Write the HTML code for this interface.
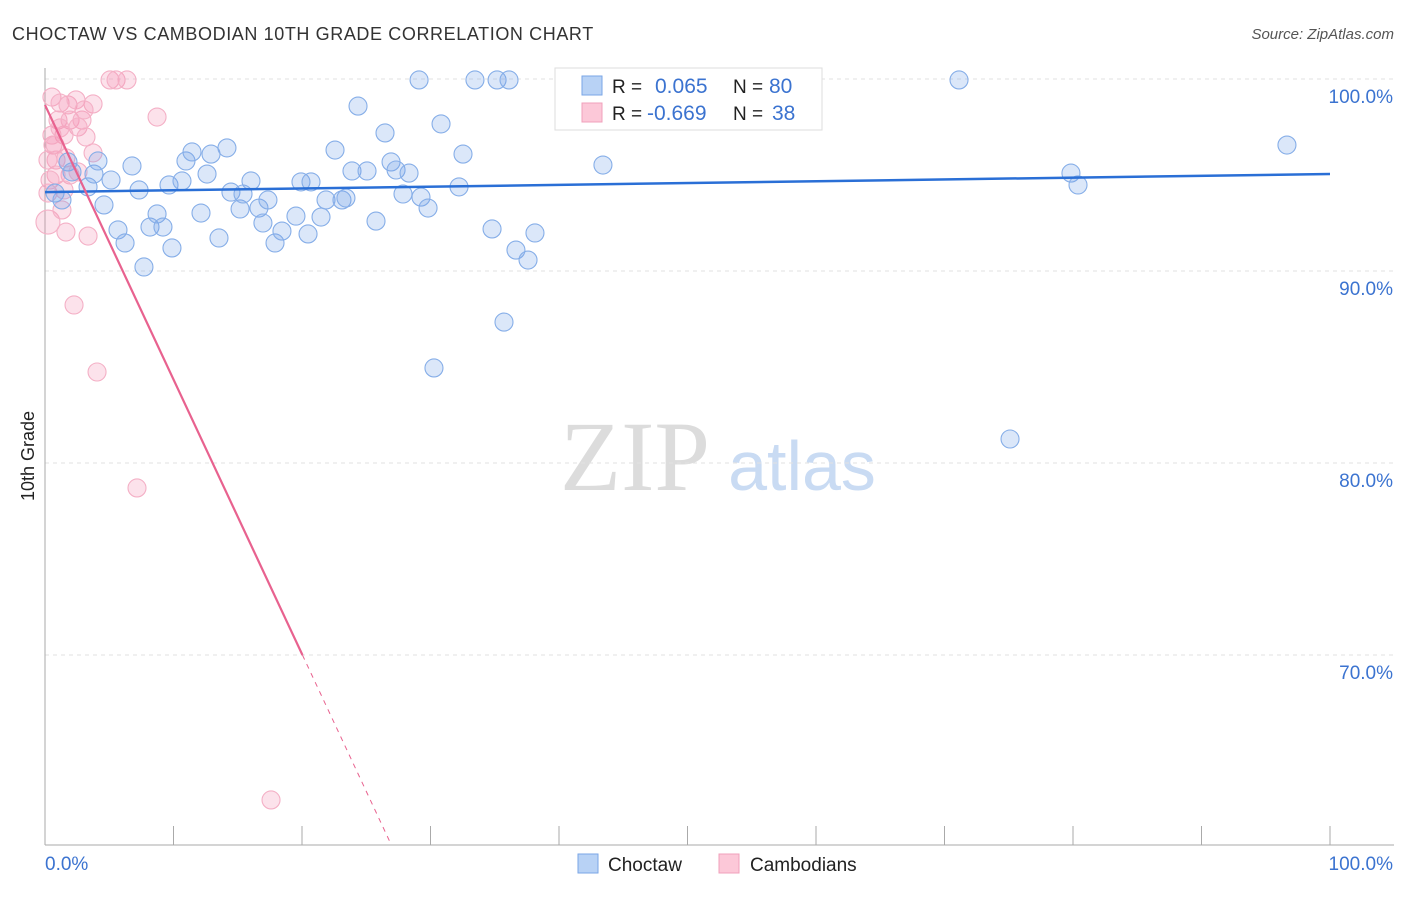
<!DOCTYPE html>
<html><head><meta charset="utf-8"><style>
body{margin:0;background:#fff;font-family:"Liberation Sans",sans-serif}
</style></head><body>
<svg id="c" width="1406" height="892" font-family="Liberation Sans, sans-serif">
<text x="12" y="40" font-size="18" fill="#333" letter-spacing="0.6">CHOCTAW VS CAMBODIAN 10TH GRADE CORRELATION CHART</text>
<text x="1394" y="39" font-size="15" fill="#555" font-style="italic" text-anchor="end">Source: ZipAtlas.com</text>
<text x="34" y="456" font-size="18" fill="#222" text-anchor="middle" transform="rotate(-90 34 456)">10th Grade</text>
<g><text x="635" y="490" font-size="100" fill="#dcdcdc" text-anchor="middle" font-family="Liberation Serif, serif">ZIP</text><text x="802" y="490" font-size="70" fill="#c9dbf3" text-anchor="middle">atlas</text></g>
<g id="grid"></g><g id="axes"></g><g id="pts"></g><g id="trend"></g>
<g>
<rect x="555" y="68" width="267" height="62" fill="#fff" stroke="#ddd"/>
<rect x="582" y="76" width="20" height="19" fill="#b8d2f5" stroke="#7aa6e6"/>
<rect x="582" y="103" width="20" height="19" fill="#fcc8d8" stroke="#f0a0bb"/>
<text x="612" y="93" font-size="19" fill="#222">R = </text><text x="655" y="93" font-size="21" fill="#3b73d0">0.065</text>
<text x="733" y="93" font-size="19" fill="#222">N = </text><text x="769" y="93" font-size="21" fill="#3b73d0">80</text>
<text x="612" y="120" font-size="19" fill="#222">R = </text><text x="647" y="120" font-size="21" fill="#3b73d0">-0.669</text>
<text x="733" y="120" font-size="19" fill="#222">N = </text><text x="772" y="120" font-size="21" fill="#3b73d0">38</text>
</g>
<g>
<rect x="578" y="854" width="20" height="19" fill="#b8d2f5" stroke="#7aa6e6"/>
<text x="608" y="871" font-size="19" fill="#222">Choctaw</text>
<rect x="719" y="854" width="20" height="19" fill="#fcc8d8" stroke="#f0a0bb"/>
<text x="750" y="871" font-size="19" fill="#222">Cambodians</text>
</g>
</svg>
<script>
const blueX=[0.78,1.32,1.79,2.10,3.35,3.81,4.12,4.59,5.14,5.68,6.23,6.77,7.32,7.70,8.17,8.72,9.18,9.65,9.88,10.66,10.97,11.44,12.14,12.61,12.92,13.54,14.16,14.47,15.18,15.41,16.03,16.65,16.96,17.35,17.90,18.44,19.53,19.92,20.47,20.70,21.48,21.87,22.57,23.11,23.42,23.89,24.36,25.06,25.76,26.46,26.93,27.32,27.86,28.33,29.11,29.26,29.81,30.27,30.82,32.22,32.53,33.46,34.79,35.18,35.72,36.11,36.65,37.59,38.13,43.42,45.53,51.13,71.13,75.10,79.84,80.39,96.65];
const blueY=[94.06,93.70,95.68,95.16,94.38,95.05,95.73,93.44,94.74,92.14,91.46,95.47,94.22,90.21,92.29,92.97,92.29,94.48,91.20,94.69,95.73,96.20,93.02,95.05,96.09,91.72,96.41,94.11,93.23,94.01,94.69,93.28,92.50,93.70,91.46,92.08,92.86,94.64,91.93,94.64,92.81,93.70,96.30,93.70,93.80,95.21,98.59,95.21,92.60,97.19,95.68,95.26,94.01,95.10,99.95,93.85,93.28,84.95,97.66,94.38,96.09,99.95,92.19,99.95,87.34,99.95,91.09,90.57,91.98,95.52,99.95,99.95,99.95,81.25,95.10,94.48,96.56];
const pinkX=[5.06,5.53,6.38,8.72,0.54,1.17,1.79,2.41,3.74,1.01,1.95,2.88,2.57,3.19,1.48,0.62,0.86,1.63,3.74,1.95,0.86,0.39,2.57,0.23,0.23,1.63,3.35,2.26,4.05,7.16,17.59,1.32,0.54,1.17,3.04,0.78,1.48,0.23];
const pinkY=[99.95,99.95,99.95,98.02,99.06,98.75,98.65,98.91,98.70,97.86,97.86,97.86,97.50,96.98,97.08,96.56,95.78,95.89,96.15,95.0,95.0,94.74,95.16,94.06,92.55,92.03,91.82,88.23,84.74,78.70,62.45,93.18,97.08,97.45,98.39,96.56,94.22,95.78];
const yTicks=[100,90,80,70];
const yTickLabels=["100.0%","90.0%","80.0%","70.0%"];
const blueTrend=[94.11,95.05];
const pinkTrend=[98.65,-1.43];
const NS="http://www.w3.org/2000/svg";
const sx=v=>45+v*12.85, sy=v=>79+(100-v)*19.2;
function mk(tag,attrs,parent){const e=document.createElementNS(NS,tag);for(const k in attrs)e.setAttribute(k,attrs[k]);document.getElementById(parent).appendChild(e);return e;}
yTicks.forEach((t,i)=>{
 const l=mk('line',{x1:45,x2:1394,y1:sy(t),y2:sy(t),stroke:'#e2e2e2','stroke-dasharray':'4 4'},'grid');
 
 
 const tx=mk('text',{x:1393,y:sy(t)+24,'font-size':19,fill:'#3b73d0','text-anchor':'end'},'axes');
 tx.textContent=yTickLabels[i];
 
 
});
mk('line',{x1:45,x2:45,y1:68,y2:845,stroke:'#aaa'},'axes');
mk('line',{x1:45,x2:1394,y1:845,y2:845,stroke:'#aaa'},'axes');
for(let i=1;i<=10;i++){const t=mk('line',{x1:sx(i*10),x2:sx(i*10),y1:826,y2:845,stroke:'#aaa'},'axes');
 
 }
let a=mk('text',{x:45,y:870,'font-size':19,fill:'#3b73d0'},'axes');a.textContent='0.0%';


a=mk('text',{x:1393,y:870,'font-size':19,fill:'#3b73d0','text-anchor':'end'},'axes');a.textContent='100.0%';


pinkX.forEach((x,i)=>{const c=mk('circle',{cx:sx(x),cy:sy(pinkY[i]),r:i==24?12:9,fill:'rgba(245,140,175,0.25)',stroke:'#f4b0c6','stroke-width':1.1},'pts');
 
 });
blueX.forEach((x,i)=>{const c=mk('circle',{cx:sx(x),cy:sy(blueY[i]),r:9,fill:'rgba(110,160,230,0.25)',stroke:'#86aee8','stroke-width':1.1},'pts');
 
 });
let l=mk('line',{x1:sx(0),y1:sy(blueTrend[0]),x2:sx(100),y2:sy(blueTrend[1]),stroke:'#2a6fd6','stroke-width':2.5},'trend');


const pAt=x=>pinkTrend[0]+pinkTrend[1]*x;
const xs=(70-pinkTrend[0])/pinkTrend[1], xe=(60.1-pinkTrend[0])/pinkTrend[1];
l=mk('line',{x1:sx(0),y1:sy(pAt(0)),x2:sx(xs),y2:sy(70),stroke:'#e8628f','stroke-width':2.2},'trend');


l=mk('line',{x1:sx(xs),y1:sy(70),x2:sx(xe),y2:sy(60.1),stroke:'#e8628f','stroke-width':1,'stroke-dasharray':'5 5'},'trend');


</script>
</body></html>
